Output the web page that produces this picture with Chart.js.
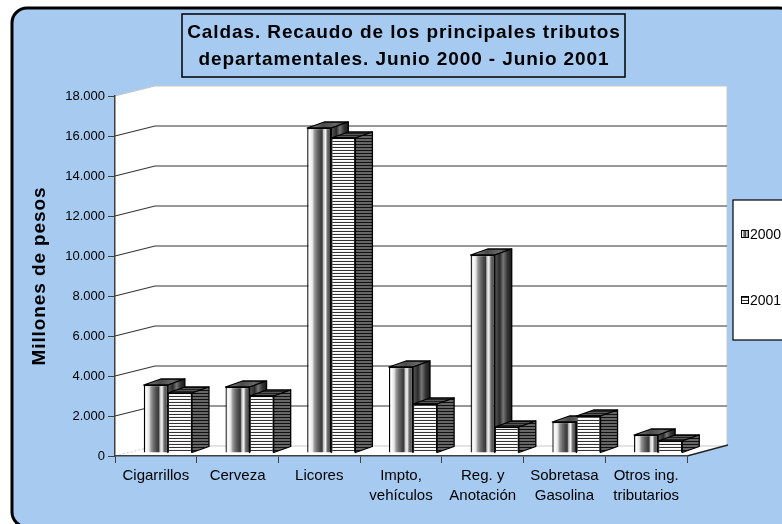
<!DOCTYPE html>
<html><head><meta charset="utf-8">
<script src="https://cdn.jsdelivr.net/npm/chart.js@4.4.1/dist/chart.umd.min.js"></script>
<style>html,body{margin:0;padding:0;background:#fff}canvas{display:block}</style>
</head><body>
<canvas id="c" width="782" height="524"></canvas>
<script>
const categories = [['Cigarrillos'], ['Cerveza'], ['Licores'], ['Impto,', 'vehículos'], ['Reg. y', 'Anotación'], ['Sobretasa', 'Gasolina'], ['Otros ing.', 'tributarios']];
const seriesNames = ['2000', '2001'];
const values2000 = [3400, 3300, 16250, 4300, 9900, 1550, 900];
const values2001 = [3000, 2850, 15750, 2450, 1300, 1850, 600];
const yTickValues = [0, 2000, 4000, 6000, 8000, 10000, 12000, 14000, 16000, 18000];
const titleLines = ['Caldas. Recaudo de los principales tributos', 'departamentales. Junio 2000 - Junio 2001'];
const yAxisTitle = 'Millones de pesos';

const FONT = '"Liberation Sans", Arial, sans-serif';
const BG = '#A6CAF0';
const CAT_PCT = 0.59;
const SHIFT_X = 12, SHIFT_Y = -3;     // bar plane offset into depth
const BAR_DX = 17, BAR_DY = -6;       // bar depth
const WALL_DX = 40, WALL_DY = -10;    // wall depth

function fmt(v) { return String(v).replace(/\B(?=(\d{3})+(?!\d))/g, '.'); }
function makePattern(rows) {
  const c = document.createElement('canvas'); c.width = 1; c.height = rows.length;
  const x = c.getContext('2d');
  rows.forEach((col, i) => { x.fillStyle = col; x.fillRect(0, i, 1, 1); });
  return x.createPattern(c, 'repeat');
}
const hStripeFront = makePattern(['#333333', '#ffffff', '#f4f4f4']);
const hStripeSide = makePattern(['#111111', '#666666', '#666666']);
const hStripeTop = makePattern(['#222222', '#555555']);
const vStops = [[0, '#a8a8a8'], [0.1, '#ffffff'], [0.22, '#e4e4e4'], [0.3, '#9a9a9a'], [0.42, '#6a6a6a'], [0.55, '#454545'], [0.62, '#3a3a3a'], [0.68, '#c8c8c8'], [0.76, '#f4f4f4'], [0.84, '#707070'], [1, '#3a3a3a']];

function barBounds(chart, idx, ds) {
  const ca = chart.chartArea, xs = chart.scales.x;
  const cw = (ca.right - ca.left) / categories.length;
  const c = xs.getPixelForValue(idx);
  const w = cw * CAT_PCT / 2;
  return ds === 0 ? [c - w, c] : [c, c + w];
}
function gradient(ctx, x0, x1, stops) {
  const g = ctx.createLinearGradient(x0, 0, x1, 0);
  stops.forEach(s => g.addColorStop(s[0], s[1]));
  return g;
}

const plug = {
  id: 'deco',
  beforeDraw(chart) {
    const ctx = chart.ctx, ca = chart.chartArea, ys = chart.scales.y;
    ctx.save();
    ctx.fillStyle = '#fff'; ctx.fillRect(0, 0, 782, 524);
    ctx.beginPath(); ctx.roundRect(12, 8, 782, 519, 15);
    ctx.fillStyle = BG; ctx.fill();
    ctx.lineWidth = 3; ctx.strokeStyle = '#000'; ctx.stroke();
    // title box
    ctx.lineWidth = 1.5; ctx.strokeStyle = '#000';
    ctx.strokeRect(182, 14, 443, 63);
    ctx.fillStyle = '#000'; ctx.font = 'bold 19px ' + FONT;
    ctx.letterSpacing = '0.9px';
    ctx.textAlign = 'center'; ctx.textBaseline = 'middle';
    ctx.fillText(titleLines[0], 404, 33);
    ctx.fillText(titleLines[1], 404, 60);
    // y axis title
    ctx.save(); ctx.translate(40, 276); ctx.rotate(-Math.PI / 2);
    ctx.fillText(yAxisTitle, 0, 0); ctx.restore();
    ctx.letterSpacing = '0px';
    // walls
    const L = ca.left, R = ca.right, T = ca.top, B = ca.bottom;
    const BR = R + WALL_DX;
    ctx.beginPath();
    ctx.moveTo(L, T); ctx.lineTo(L + WALL_DX, T + WALL_DY); ctx.lineTo(BR, T + WALL_DY);
    ctx.lineTo(BR, B + WALL_DY); ctx.lineTo(R, B); ctx.lineTo(L, B); ctx.closePath();
    ctx.fillStyle = '#fff'; ctx.fill();
    ctx.strokeStyle = '#c8c8c8'; ctx.lineWidth = 1;
    ctx.beginPath(); ctx.moveTo(L, T); ctx.lineTo(L + WALL_DX, T + WALL_DY); ctx.lineTo(BR, T + WALL_DY); ctx.lineTo(BR, B + WALL_DY); ctx.stroke();
    ctx.beginPath(); ctx.moveTo(L + WALL_DX, B + WALL_DY); ctx.lineTo(BR, B + WALL_DY); ctx.stroke();
    ctx.setLineDash([2, 2]);
    ctx.beginPath(); ctx.moveTo(L, B); ctx.lineTo(L + WALL_DX, B + WALL_DY); ctx.stroke();
    ctx.setLineDash([]);
    // gridlines
    ctx.strokeStyle = '#333333'; ctx.lineWidth = 1.2;
    yTickValues.forEach(v => {
      if (v === 0 || v === 18000) return;
      const y = ys.getPixelForValue(v);
      ctx.beginPath(); ctx.moveTo(L, y); ctx.lineTo(L + WALL_DX, y + WALL_DY); ctx.lineTo(BR, y + WALL_DY); ctx.stroke();
    });
    // floor right edge
    ctx.strokeStyle = '#222'; ctx.lineWidth = 1.3;
    ctx.beginPath(); ctx.moveTo(R, B); ctx.lineTo(BR + 1, B + WALL_DY - 1); ctx.stroke();
    // legend
    ctx.fillStyle = '#fff'; ctx.fillRect(733, 200, 70, 140);
    ctx.strokeStyle = '#000'; ctx.lineWidth = 1.2; ctx.strokeRect(733, 200, 70, 140);
    const ly = [234, 300];
    seriesNames.forEach((n, i) => {
      const y = ly[i];
      ctx.fillStyle = i === 0 ? gradient(ctx, 741, 749, vStops) : hStripeFront;
      ctx.fillRect(741, y - 4, 8, 8);
      ctx.strokeStyle = '#000'; ctx.lineWidth = 1; ctx.strokeRect(741.5, y - 3.5, 7, 7);
      ctx.fillStyle = '#000'; ctx.font = '14px ' + FONT; ctx.textAlign = 'left'; ctx.textBaseline = 'middle';
      ctx.fillText(n, 750, y + 1);
    });
    ctx.restore();
  },
  beforeDatasetsDraw(chart) {
    chart.ctx.save(); chart.ctx.translate(SHIFT_X, SHIFT_Y);
  },
  afterDatasetsDraw(chart) {
    const ctx = chart.ctx;
    const m0 = chart.getDatasetMeta(0), m1 = chart.getDatasetMeta(1);
    function faces(b, ds) {
      const L = b.x - b.width / 2, R = b.x + b.width / 2, T = b.y, Bm = b.base;
      ctx.lineWidth = 1.3; ctx.strokeStyle = '#000'; ctx.lineJoin = 'round';
      ctx.beginPath(); ctx.moveTo(L, T); ctx.lineTo(R, T); ctx.lineTo(R + BAR_DX, T + BAR_DY); ctx.lineTo(L + BAR_DX, T + BAR_DY); ctx.closePath();
      ctx.fillStyle = ds === 0 ? gradient(ctx, L, R + BAR_DX, [[0, '#8a8a8a'], [0.4, '#4a4a4a'], [0.7, '#6a6a6a'], [1, '#1e1e1e']]) : hStripeTop;
      ctx.fill(); ctx.stroke();
      ctx.beginPath(); ctx.moveTo(R, T); ctx.lineTo(R + BAR_DX, T + BAR_DY); ctx.lineTo(R + BAR_DX, Bm + BAR_DY); ctx.lineTo(R, Bm); ctx.closePath();
      ctx.fillStyle = ds === 0 ? gradient(ctx, R, R + BAR_DX, [[0, '#5a5a5a'], [0.3, '#2a2a2a'], [0.5, '#777777'], [0.75, '#333333'], [1, '#1a1a1a']]) : hStripeSide;
      ctx.fill(); ctx.stroke();
    }
    for (let i = 0; i < categories.length; i++) {
      const b0 = m0.data[i], b1 = m1.data[i];
      const R0 = b0.x + b0.width / 2;
      ctx.save();
      ctx.beginPath();
      ctx.rect(-100, -100, R0 + 100 + 0.5, 800);
      ctx.rect(R0, -100, 200, b1.y + 100);
      ctx.clip();
      faces(b0, 0);
      ctx.restore();
      faces(b1, 1);
    }
    ctx.restore();
  }
};

new Chart(document.getElementById('c'), {
  type: 'bar',
  data: {
    labels: categories,
    datasets: [
      {
        label: seriesNames[0], data: values2000, clip: false,
        backgroundColor: (c) => {
          if (c.dataIndex === undefined || !c.chart.chartArea) return '#888';
          const [l, r] = barBounds(c.chart, c.dataIndex, 0);
          return gradient(c.chart.ctx, l, r, vStops);
        },
        borderColor: '#000', borderWidth: 1.3,
        categoryPercentage: CAT_PCT, barPercentage: 1
      },
      {
        label: seriesNames[1], data: values2001, clip: false,
        backgroundColor: hStripeFront,
        borderColor: '#000', borderWidth: 1.3,
        categoryPercentage: CAT_PCT, barPercentage: 1
      }
    ]
  },
  options: {
    responsive: false, animation: false, devicePixelRatio: 1,
    layout: { padding: { left: 0, top: 96, right: 95, bottom: 0 } },
    plugins: { legend: { display: false }, title: { display: false }, tooltip: { enabled: false } },
    scales: {
      x: {
        grid: { display: true, drawOnChartArea: false, drawTicks: true, tickLength: 7, color: '#404040', offset: true },
        border: { display: true, color: '#404040', width: 1.5 },
        ticks: { font: { family: FONT, size: 15, lineHeight: 1.34 }, color: '#000', padding: 3, maxRotation: 0, autoSkip: false },
        afterFit: (s) => { s.height = 68; }
      },
      y: {
        min: 0, max: 18000,
        afterBuildTicks: (s) => { s.ticks = yTickValues.map(v => ({ value: v })); },
        ticks: { callback: (v) => fmt(v), font: { family: FONT, size: 13 }, color: '#000', padding: 3 },
        grid: { drawOnChartArea: false, drawTicks: true, tickLength: 7, color: '#404040' },
        border: { display: true, color: '#404040', width: 1.5 },
        afterFit: (s) => { s.width = 115; }
      }
    }
  },
  plugins: [plug]
});
</script>
</body></html>
